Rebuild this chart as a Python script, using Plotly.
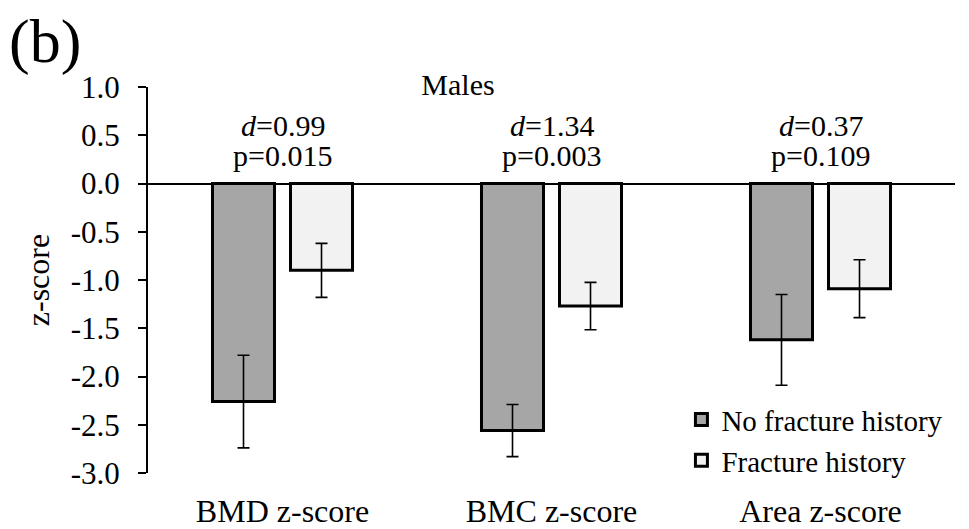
import plotly.graph_objects as go

categories = ["BMD z-score", "BMC z-score", "Area z-score"]
no_fracture = [-2.26, -2.56, -1.62]
no_fracture_err = [0.48, 0.27, 0.47]
fracture = [-0.90, -1.27, -1.09]
fracture_err = [0.28, 0.245, 0.30]
d_values = ["0.99", "1.34", "0.37"]
p_values = ["0.015", "0.003", "0.109"]
y_ticks = [1.0, 0.5, 0.0, -0.5, -1.0, -1.5, -2.0, -2.5, -3.0]

FONT = "Liberation Serif, Times New Roman, serif"

fig = go.Figure()
fig.add_trace(go.Bar(
    name="No fracture history", x=categories, y=no_fracture,
    marker=dict(color="#a6a6a6", line=dict(color="black", width=3)),
    error_y=dict(type="data", array=no_fracture_err, color="black", thickness=1.6, width=6),
))
fig.add_trace(go.Bar(
    name="Fracture history", x=categories, y=fracture,
    marker=dict(color="#f2f2f2", line=dict(color="black", width=3)),
    error_y=dict(type="data", array=fracture_err, color="black", thickness=1.6, width=6),
))

for c, d, p in zip(categories, d_values, p_values):
    fig.add_annotation(x=c, y=0.60, text=f"<i>d</i>={d}", showarrow=False,
                       font=dict(size=30, family=FONT, color="black"), yanchor="middle")
    fig.add_annotation(x=c, y=0.29, text=f"p={p}", showarrow=False,
                       font=dict(size=30, family=FONT, color="black"), yanchor="middle")

fig.add_annotation(xref="paper", yref="paper", x=-0.128, y=1.117, text="(b)", showarrow=False,
                   font=dict(size=62, family=FONT, color="black"), xanchor="center", yanchor="middle")

fig.update_layout(
    width=969, height=529,
    margin=dict(l=148, r=14, t=87, b=56, autoexpand=False),
    paper_bgcolor="white", plot_bgcolor="white",
    font=dict(family=FONT, color="black", size=28),
    title=dict(text="Males", xref="container", yref="container", x=458/969, y=1-84/529,
               xanchor="center", yanchor="middle", font=dict(size=30, family=FONT, color="black")),
    barmode="group", bargap=0.42, bargroupgap=0.205,
    showlegend=True,
    legend=dict(x=0.661, y=0.085, xanchor="left", yanchor="middle",
                font=dict(size=29, family=FONT, color="black"),
                bgcolor="rgba(0,0,0,0)", tracegroupgap=0),
)
fig.update_yaxes(
    range=[-3.0, 1.0], tickvals=y_ticks, ticktext=[f"{v:.1f}" for v in y_ticks],
    showline=True, linecolor="black", linewidth=2,
    ticks="outside", ticklen=8, tickwidth=2, tickcolor="black",
    showgrid=False, zeroline=True, zerolinecolor="black", zerolinewidth=1.5,
    tickfont=dict(size=31, family=FONT), ticklabelstandoff=12, automargin=False,
    title=dict(text="z-score", font=dict(size=32, family=FONT), standoff=12),
)
fig.update_xaxes(
    showline=False, showgrid=False, zeroline=False, ticks="", automargin=False,
    tickfont=dict(size=32, family=FONT), ticklabelstandoff=16,
)

fig.write_html("out.html")
